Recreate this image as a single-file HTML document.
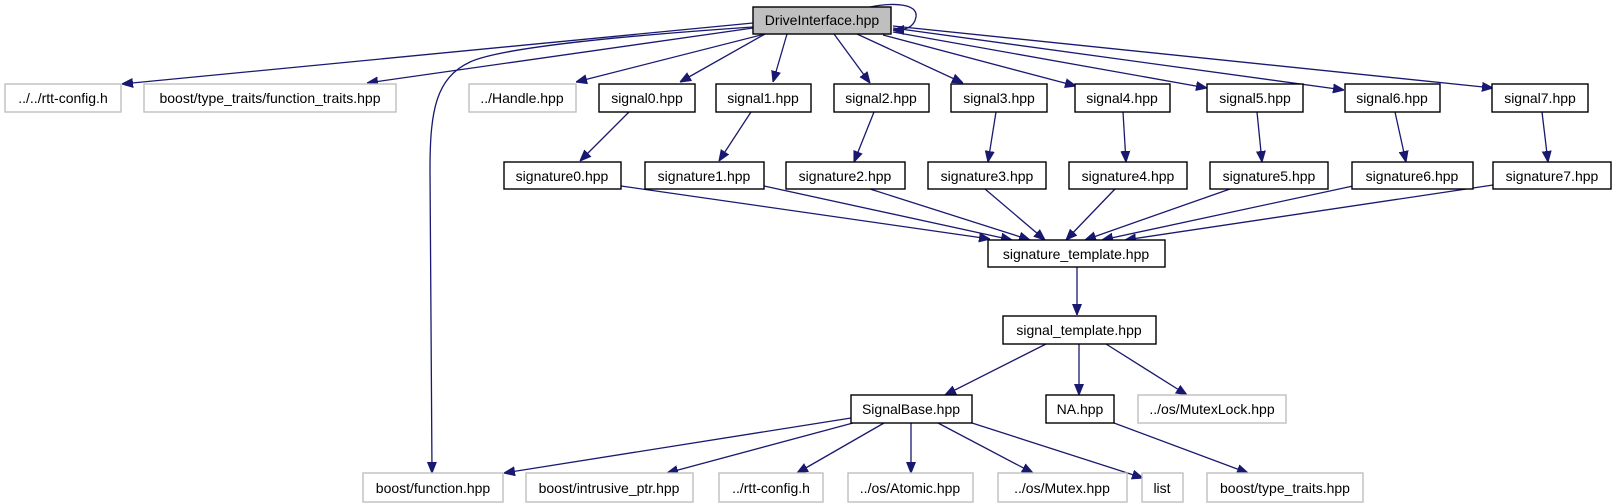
<!DOCTYPE html>
<html><head><meta charset="utf-8"><style>
html,body{margin:0;padding:0;background:#fff;}
svg{display:block;}
text{font-family:"Liberation Sans",sans-serif;font-size:14px;fill:#000;text-anchor:middle;}
.b{fill:#fff;stroke:#000;stroke-width:1.4;}
.g{fill:#fff;stroke:#bfbfbf;stroke-width:1.4;}
.e{stroke:#191970;stroke-width:1.3;fill:none;marker-end:url(#a);}
</style></head><body>
<svg width="1616" height="504" viewBox="0 0 1616 504" xmlns="http://www.w3.org/2000/svg">
<defs><marker id="a" viewBox="0 0 10 10" refX="10" refY="5" markerWidth="11" markerHeight="11" markerUnits="userSpaceOnUse" orient="auto"><path d="M0,1 L10,5 L0,9 z" fill="#191970" stroke="#191970"/></marker></defs>

<path class="e" d="M753,23 L122,84"/>
<path class="e" d="M753,28 L367,83"/>
<path class="e" d="M765,34 L576,82"/>
<path class="e" d="M765,34 L680,82"/>
<path class="e" d="M787,34 L773,82"/>
<path class="e" d="M834,34 L870,83"/>
<path class="e" d="M857,34 L963,83"/>
<path class="e" d="M883,35 L1076,86"/>
<path class="e" d="M893,32 L1207,88"/>
<path class="e" d="M893,28 L1344,90"/>
<path class="e" d="M893,26 L1493,88"/>
<path class="e" d="M870,7 C895,2 918,4 916,17 C914,28 905,30 893,30"/>
<path class="e" d="M753,27 C620,36 500,48 470,62 C436,78 430,110 430,170 L432,473"/>

<path class="e" d="M629,112 L580,161"/>
<path class="e" d="M751,112 L719,161"/>
<path class="e" d="M874,112 L854,162"/>
<path class="e" d="M996,112 L988,162"/>
<path class="e" d="M1123,112 L1126,162"/>
<path class="e" d="M1257,112 L1262,162"/>
<path class="e" d="M1395,112 L1406,162"/>
<path class="e" d="M1542,112 L1548,162"/>

<path class="e" d="M621,186 L990,239"/>
<path class="e" d="M764,186 L1012,240"/>
<path class="e" d="M870,189 L1030,240"/>
<path class="e" d="M985,189 L1045,240"/>
<path class="e" d="M1115,189 L1066,240"/>
<path class="e" d="M1230,189 L1085,240"/>
<path class="e" d="M1353,186 L1102,240"/>
<path class="e" d="M1493,185 L1125,240"/>

<path class="e" d="M1077,267 L1077,315"/>
<path class="e" d="M1046,344 L945,395"/>
<path class="e" d="M1079,344 L1079,395"/>
<path class="e" d="M1106,344 L1187,395"/>

<path class="e" d="M851,418 L504,473"/>
<path class="e" d="M853,423 L667,473"/>
<path class="e" d="M884,423 L797,473"/>
<path class="e" d="M911,423 L911,473"/>
<path class="e" d="M938,423 L1033,473"/>
<path class="e" d="M972,423 L1143,478"/>
<path class="e" d="M1114,423 L1248,473"/>

<rect x="753" y="7" width="138" height="27" fill="#bfbfbf" stroke="#000" stroke-width="1.4"/><text x="822" y="25">DriveInterface.hpp</text>

<rect class="g" x="5" y="84" width="116" height="28"/><text x="63" y="103">../../rtt-config.h</text>
<rect class="g" x="144" y="84" width="252" height="28"/><text x="270" y="103">boost/type_traits/function_traits.hpp</text>
<rect class="g" x="469" y="84" width="107" height="28"/><text x="522" y="103">../Handle.hpp</text>
<rect class="b" x="599" y="84" width="96" height="28"/><text x="647" y="103">signal0.hpp</text>
<rect class="b" x="716" y="84" width="95" height="28"/><text x="763" y="103">signal1.hpp</text>
<rect class="b" x="834" y="84" width="95" height="28"/><text x="881" y="103">signal2.hpp</text>
<rect class="b" x="951" y="84" width="96" height="28"/><text x="999" y="103">signal3.hpp</text>
<rect class="b" x="1075" y="84" width="95" height="28"/><text x="1122" y="103">signal4.hpp</text>
<rect class="b" x="1207" y="84" width="96" height="28"/><text x="1255" y="103">signal5.hpp</text>
<rect class="b" x="1345" y="84" width="95" height="28"/><text x="1392" y="103">signal6.hpp</text>
<rect class="b" x="1492" y="84" width="96" height="28"/><text x="1540" y="103">signal7.hpp</text>

<rect class="b" x="504" y="162" width="117" height="27"/><text x="562" y="181">signature0.hpp</text>
<rect class="b" x="645" y="162" width="119" height="27"/><text x="704" y="181">signature1.hpp</text>
<rect class="b" x="786" y="162" width="119" height="27"/><text x="845" y="181">signature2.hpp</text>
<rect class="b" x="928" y="162" width="118" height="27"/><text x="987" y="181">signature3.hpp</text>
<rect class="b" x="1069" y="162" width="118" height="27"/><text x="1128" y="181">signature4.hpp</text>
<rect class="b" x="1210" y="162" width="118" height="27"/><text x="1269" y="181">signature5.hpp</text>
<rect class="b" x="1352" y="162" width="121" height="27"/><text x="1412" y="181">signature6.hpp</text>
<rect class="b" x="1493" y="162" width="118" height="27"/><text x="1552" y="181">signature7.hpp</text>

<rect class="b" x="988" y="240" width="177" height="27"/><text x="1076" y="259">signature_template.hpp</text>
<rect class="b" x="1003" y="316" width="153" height="28"/><text x="1079" y="335">signal_template.hpp</text>

<rect class="b" x="851" y="395" width="121" height="28"/><text x="911" y="414">SignalBase.hpp</text>
<rect class="b" x="1046" y="395" width="68" height="28"/><text x="1080" y="414">NA.hpp</text>
<rect class="g" x="1138" y="395" width="148" height="28"/><text x="1212" y="414">../os/MutexLock.hpp</text>

<rect class="g" x="363" y="473" width="140" height="29"/><text x="433" y="493">boost/function.hpp</text>
<rect class="g" x="526" y="473" width="167" height="29"/><text x="609" y="493">boost/intrusive_ptr.hpp</text>
<rect class="g" x="719" y="473" width="104" height="29"/><text x="771" y="493">../rtt-config.h</text>
<rect class="g" x="848" y="473" width="125" height="29"/><text x="910" y="493">../os/Atomic.hpp</text>
<rect class="g" x="998" y="473" width="129" height="29"/><text x="1062" y="493">../os/Mutex.hpp</text>
<rect class="g" x="1142" y="473" width="41" height="29"/><text x="1162" y="493">list</text>
<rect class="g" x="1207" y="473" width="156" height="29"/><text x="1285" y="493">boost/type_traits.hpp</text>
</svg>
</body></html>
